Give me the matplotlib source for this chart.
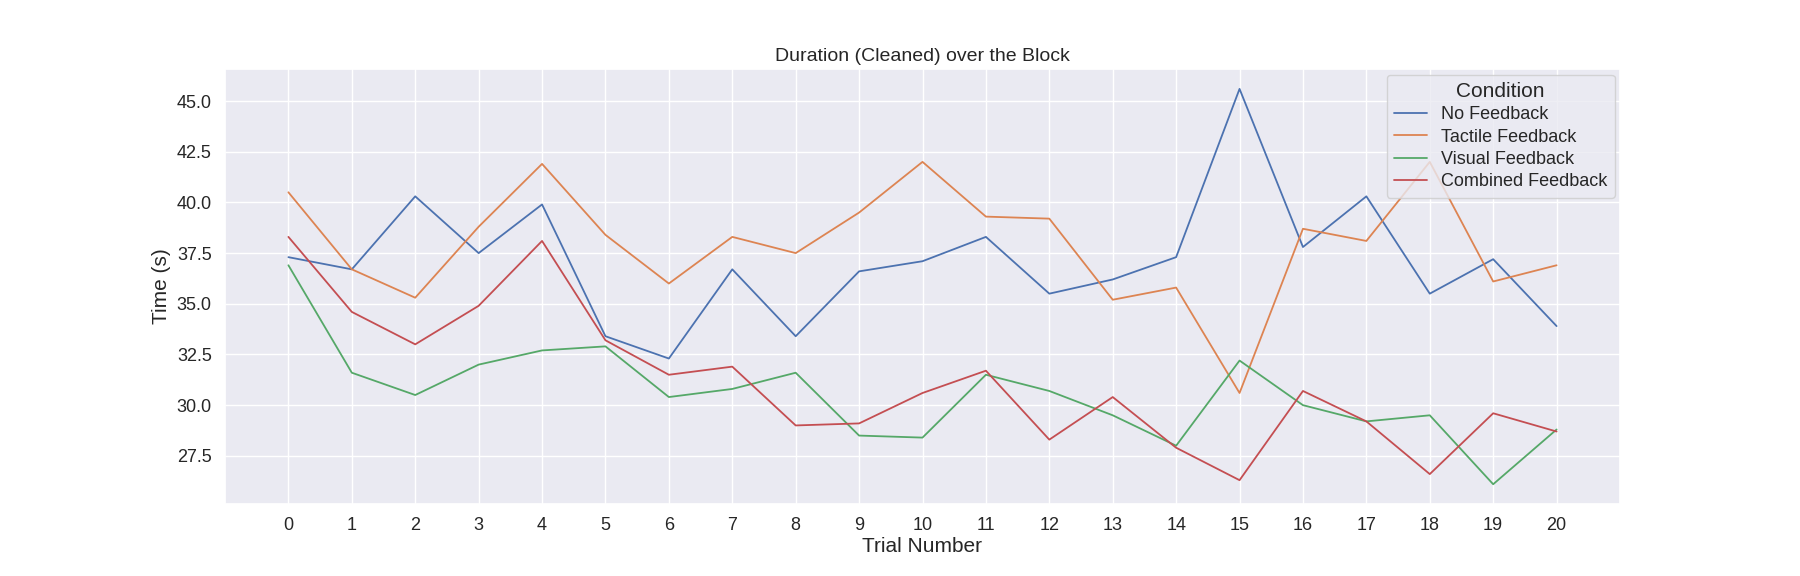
import matplotlib
matplotlib.use("Agg")
import matplotlib.pyplot as plt
import seaborn as sns

trials = list(range(21))
no_feedback = [37.3, 36.7, 40.3, 37.5, 39.9, 33.4, 32.3, 36.7, 33.4, 36.6, 37.1,
               38.3, 35.5, 36.2, 37.3, 45.6, 37.8, 40.3, 35.5, 37.2, 33.9]
tactile = [40.5, 36.7, 35.3, 38.8, 41.9, 38.4, 36.0, 38.3, 37.5, 39.5, 42.0,
           39.3, 39.2, 35.2, 35.8, 30.6, 38.7, 38.1, 42.0, 36.1, 36.9]
visual = [36.9, 31.6, 30.5, 32.0, 32.7, 32.9, 30.4, 30.8, 31.6, 28.5, 28.4,
          31.5, 30.7, 29.5, 28.0, 32.2, 30.0, 29.2, 29.5, 26.1, 28.8]
combined = [38.3, 34.6, 33.0, 34.9, 38.1, 33.2, 31.5, 31.9, 29.0, 29.1, 30.6,
            31.7, 28.3, 30.4, 27.9, 26.3, 30.7, 29.2, 26.6, 29.6, 28.7]
series = {
    "No Feedback": no_feedback,
    "Tactile Feedback": tactile,
    "Visual Feedback": visual,
    "Combined Feedback": combined,
}

sns.set_theme(style="darkgrid", palette="deep")
plt.rcParams["font.family"] = ["Liberation Sans", "DejaVu Sans"]
fig, ax = plt.subplots(figsize=(18, 5.76), dpi=100)
fig.subplots_adjust(left=0.125, right=0.9, top=0.88, bottom=0.125)

for name, vals in series.items():
    ax.plot(trials, vals, label=name, linewidth=1.3)

ax.set_xticks(trials)
ax.set_xlim(-1.0, 21.0)
ax.tick_params(labelsize=13)
ax.set_title("Duration (Cleaned) over the Block", fontsize=14)
ax.set_xlabel("Trial Number", fontsize=15, labelpad=2)
ax.set_ylabel("Time (s)", fontsize=15)
ax.legend(title="Condition", loc="upper right", fontsize=13, title_fontsize=15,
          borderaxespad=0.3, handlelength=1.8, labelspacing=0.3)

fig.savefig("out.png")
